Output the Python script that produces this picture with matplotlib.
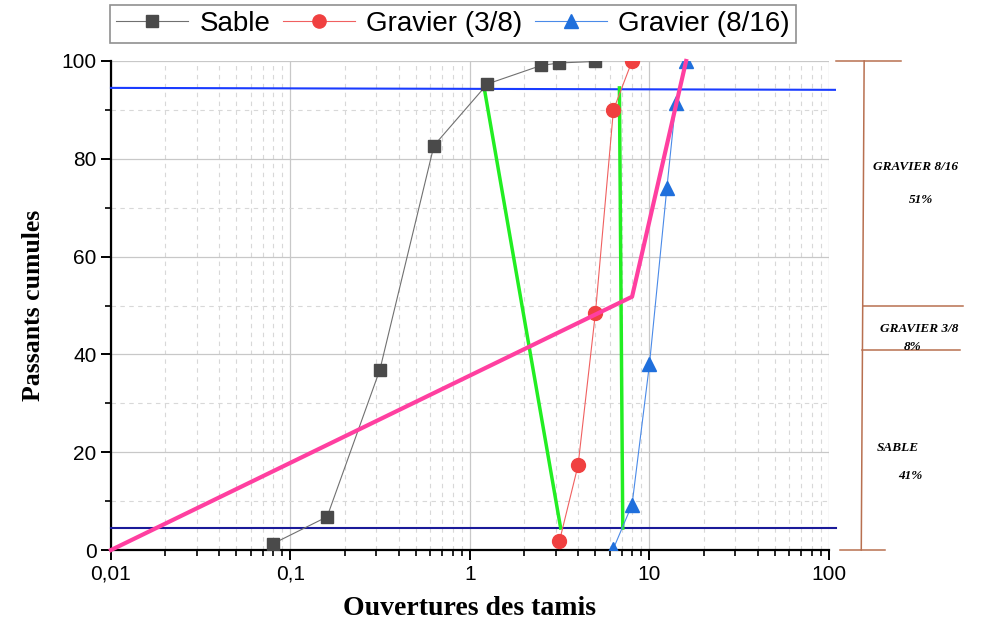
import matplotlib.pyplot as plt
import matplotlib.transforms as mtransforms
from matplotlib.ticker import FixedLocator, FuncFormatter, LogLocator, MultipleLocator

# tamis (mm) et passants cumulés (%)
tamis_sable = [0.08, 0.16, 0.315, 0.63, 1.25, 2.5, 3.15, 5.0]
passant_sable = [1.3, 6.8, 36.9, 82.7, 95.3, 99.1, 99.6, 99.9]

tamis_g38 = [3.15, 4.0, 5.0, 6.3, 8.0]
passant_g38 = [1.8, 17.3, 48.5, 90.0, 100.0]

tamis_g816 = [6.3, 8.0, 10.0, 12.5, 14.0, 16.0]
passant_g816 = [0.3, 9.3, 38.0, 74.0, 91.5, 100.0]

# courbe de mélange (méthode de Dreux) et tracés de construction
melange_x = [0.01, 8.0, 16.0]
melange_y = [0.0, 51.8, 100.0]
vert1_x = [1.2, 3.2]
vert1_y = [94.5, 4.5]
vert2_x = [6.8, 7.1]
vert2_y = [94.5, 4.5]
ligne_haute = 94.5
ligne_basse = 4.5

# pourcentages des constituants
pct_sable = 41
pct_g38 = 8
pct_g816 = 51

fig = plt.figure(figsize=(9.83, 6.32), dpi=100)
ax = fig.add_axes([0.1129, 0.1297, 0.7304, 0.7738])

ax.plot(tamis_sable, passant_sable, color="#707070", lw=0.8, marker="s",
        ms=9, mfc="#4a4a4a", mec="#4a4a4a", label="Sable", zorder=4)
ax.plot(tamis_g38, passant_g38, color="#f06060", lw=0.8, marker="o",
        ms=10, mfc="#f04040", mec="#f04040", label="Gravier (3/8)", zorder=4)
ax.plot(tamis_g816, passant_g816, color="#4a8ae8", lw=0.8, marker="^",
        ms=10, mfc="#1f6fdc", mec="#1f6fdc", label="Gravier (8/16)", zorder=4)

ax.plot([0.01, 108], [ligne_haute, ligne_haute - 0.4], color="#1a3cff",
        lw=1.5, clip_on=False, zorder=3)
ax.plot([0.01, 110], [ligne_basse, ligne_basse], color="#1a1a99",
        lw=1.5, clip_on=False, zorder=3)
ax.plot(vert1_x, vert1_y, color="#22ee22", lw=2.5, zorder=3)
ax.plot(vert2_x, vert2_y, color="#22ee22", lw=2.5, zorder=3)
ax.plot(melange_x, melange_y, color="#ff3fa0", lw=3, zorder=5, clip_on=False)

ax.set_xscale("log")
ax.set_xlim(0.01, 100)
ax.set_ylim(0, 100)
ax.xaxis.set_major_locator(FixedLocator([0.01, 0.1, 1, 10, 100]))
ax.xaxis.set_minor_locator(LogLocator(base=10, subs=range(2, 10)))
ax.xaxis.set_major_formatter(FuncFormatter(lambda v, p: f"{v:g}".replace(".", ",")))
ax.xaxis.set_minor_formatter(FuncFormatter(lambda v, p: ""))
ax.yaxis.set_major_locator(MultipleLocator(20))
ax.yaxis.set_minor_locator(MultipleLocator(10))

ax.grid(which="major", color="#c8c8c8", lw=0.9)
ax.grid(which="minor", color="#d8d8d8", lw=0.8, ls=(0, (4, 4)))
ax.set_axisbelow(True)
for s in ("top", "right"):
    ax.spines[s].set_visible(False)
for s in ("left", "bottom"):
    ax.spines[s].set_linewidth(1.6)
ax.tick_params(which="major", direction="out", length=7, width=1.4,
               labelsize=15, labelfontfamily="Liberation Sans")
ax.tick_params(which="minor", direction="out", length=4, width=1.2)

ax.set_xlabel("Ouvertures des tamis", family="Liberation Serif",
              fontweight="bold", fontsize=20, labelpad=9)
ax.set_ylabel("Passants cumules", family="Liberation Serif",
              fontweight="bold", fontsize=18.5, labelpad=12)

leg = fig.legend(loc="upper left", bbox_to_anchor=(0.112, 0.992), ncol=3,
                 fancybox=False, edgecolor="#909090", framealpha=1,
                 prop={"family": "Liberation Sans", "size": 20},
                 handlelength=2.6, columnspacing=0.45, handletextpad=0.4,
                 borderpad=0.22, markerscale=0.95, borderaxespad=0)
leg.get_frame().set_linewidth(1.2)

# échelle des pourcentages à droite
tr = mtransforms.blended_transform_factory(ax.transAxes, ax.transData)
brun = "#b87050"
lim1 = pct_sable
lim2 = pct_sable + pct_g38
kw = dict(transform=tr, color=brun, lw=1.1, clip_on=False)
ax.plot([1.049, 1.045], [100, 0], **kw)
ax.plot([1.01, 1.10], [100, 100], **kw)
ax.plot([1.015, 1.078], [0, 0], **kw)
ax.plot([1.047, 1.187], [lim2 + 1, lim2 + 1], **kw)
ax.plot([1.046, 1.183], [lim1, lim1], **kw)

tkw = dict(transform=tr, family="Liberation Serif", fontweight="bold",
           fontstyle="italic", fontsize=9.5, ha="center", va="center")
ax.text(1.121, 78.3, "GRAVIER 8/16", **tkw)
ax.text(1.128, 71.5, f"{pct_g816}%", **tkw)
ax.text(1.125, 45.2, "GRAVIER 3/8", **tkw)
ax.text(1.116, 41.6, f"{pct_g38}%", **tkw)
ax.text(1.096, 20.9, "SABLE", **tkw)
ax.text(1.114, 15.2, f"{pct_sable}%", **tkw)

fig.savefig("out.png", dpi=100)
